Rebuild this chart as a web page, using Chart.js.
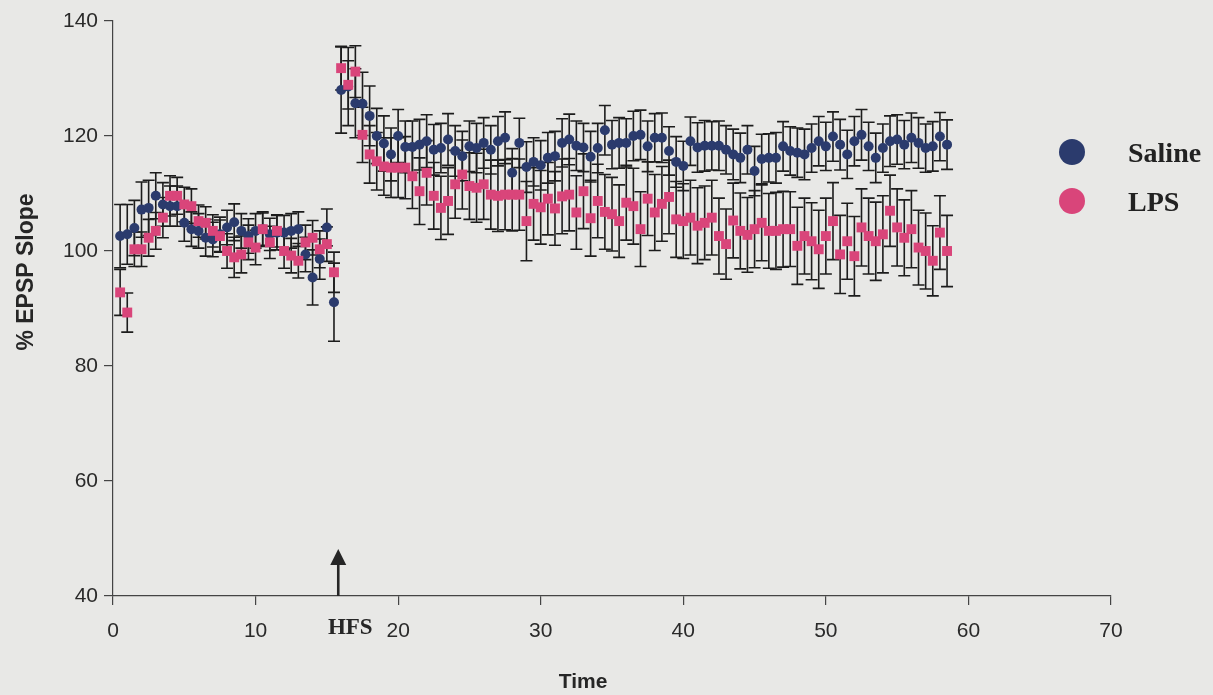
<!DOCTYPE html>
<html>
<head>
<meta charset="utf-8">
<script src="https://cdn.jsdelivr.net/npm/chart.js@4.4.0/dist/chart.umd.min.js"></script>
<style>
  html, body { margin: 0; padding: 0; background: #e8e8e6; overflow: hidden; }
  canvas { display: block; }
</style>
</head>
<body>
<canvas id="c" width="1213" height="695"></canvas>
<script>
// Sampling times (min): baseline before HFS, then the potentiation period
const preTime = [0.5, 1, 1.5, 2, 2.5, 3, 3.5, 4, 4.5, 5, 5.5, 6, 6.5, 7, 7.5, 8, 8.5, 9, 9.5, 10,
  10.5, 11, 11.5, 12, 12.5, 13, 13.5, 14, 14.5, 15, 15.5];
const postTime = [16, 16.5, 17, 17.5, 18, 18.5, 19, 19.5, 20, 20.5, 21, 21.5, 22, 22.5, 23, 23.5,
  24, 24.5, 25, 25.5, 26, 26.5, 27, 27.5, 28, 28.5, 29, 29.5, 30, 30.5, 31, 31.5, 32, 32.5, 33,
  33.5, 34, 34.5, 35, 35.5, 36, 36.5, 37, 37.5, 38, 38.5, 39, 39.5, 40, 40.5, 41, 41.5, 42, 42.5,
  43, 43.5, 44, 44.5, 45, 45.5, 46, 46.5, 47, 47.5, 48, 48.5, 49, 49.5, 50, 50.5, 51, 51.5, 52,
  52.5, 53, 53.5, 54, 54.5, 55, 55.5, 56, 56.5, 57, 57.5, 58, 58.5];

// Saline group, % EPSP slope (mean) and SEM
const salinePre = [102.6, 102.9, 104.0, 107.2, 107.5, 109.6, 108.1, 107.8, 107.8, 104.9, 103.8,
  103.5, 102.3, 102.0, 102.9, 104.1, 105.0, 103.5, 102.6, 103.5, 103.8, 102.9, 103.2, 103.2, 103.5,
  103.8, 99.4, 95.4, 98.6, 104.1, 91.1];
const salinePreSem = [5.5, 5.2, 4.8, 4.8, 4.8, 4.0, 3.8, 3.5, 3.5, 3.2, 3.0, 3.0, 3.2, 3.0, 3.0,
  3.0, 3.2, 3.0, 3.0, 3.0, 3.0, 2.8, 3.0, 3.0, 3.0, 3.0, 3.0, 4.8, 3.5, 3.2, 6.8];
const salinePost = [128.0, 128.6, 125.7, 125.6, 123.5, 120.0, 118.7, 116.8, 120.0, 118.1, 118.1,
  118.5, 119.1, 117.6, 117.9, 119.4, 117.4, 116.5, 118.2, 117.9, 118.8, 117.6, 119.1, 119.7, 113.6,
  118.8, 114.6, 115.5, 114.9, 116.2, 116.5, 118.8, 119.4, 118.3, 118.0, 116.4, 117.9, 121.0, 118.5,
  118.8, 118.8, 120.0, 120.2, 118.2, 119.7, 119.7, 117.4, 115.5, 114.8, 119.1, 118.0, 118.3, 118.3,
  118.3, 117.6, 116.8, 116.2, 117.6, 113.9, 116.0, 116.2, 116.2, 118.2, 117.4, 117.1, 116.8, 117.9,
  119.1, 118.2, 119.9, 118.5, 116.8, 119.1, 120.2, 118.2, 116.2, 117.9, 119.1, 119.4, 118.5, 119.7,
  118.8, 117.9, 118.2, 119.9, 118.5];
const salinePostSem = [7.5, 6.8, 6.0, 5.5, 5.2, 4.8, 4.8, 4.6, 4.6,
  4.5, 4.5, 4.4, 4.6, 4.4, 4.3, 4.5, 4.4, 4.3, 4.4,
  4.3, 4.4, 4.2, 4.3, 4.5, 4.2, 4.3, 4.4, 4.2, 4.3,
  4.4, 4.3, 4.2, 4.4, 4.3, 4.2, 4.4, 4.3, 4.3, 4.2,
  4.4, 4.2, 4.3, 4.3, 4.4, 4.2, 4.3, 4.2, 4.4, 4.3,
  4.2, 4.3, 4.4, 4.2, 4.3, 4.2, 4.4, 4.3, 4.2, 4.3,
  4.3, 4.2, 4.4, 4.3, 4.2, 4.3, 4.4, 4.2, 4.3, 4.2,
  4.3, 4.4, 4.2, 4.3, 4.4, 4.2, 4.3, 4.2, 4.4, 4.3,
  4.2, 4.3, 4.4, 4.2, 4.3, 4.2, 4.3];

// LPS group, % EPSP slope (mean) and SEM
const lpsPre = [92.8, 89.3, 100.3, 100.3, 102.3, 103.5, 105.8, 109.6, 109.6, 108.1, 107.8, 105.2,
  104.9, 103.5, 102.6, 100.0, 98.9, 99.4, 101.5, 100.6, 103.8, 101.5, 103.5, 100.0, 99.2, 98.3,
  101.5, 102.3, 100.3, 101.2, 96.3];
const lpsPreSem = [4.0, 3.4, 3.0, 3.0, 3.2, 3.2, 3.5, 3.5, 3.2, 3.0, 3.0, 2.8, 2.8, 2.8, 2.8, 3.0,
  3.5, 3.2, 3.0, 3.0, 2.8, 2.8, 2.8, 3.0, 3.0, 3.0, 3.0, 3.0, 3.2, 3.0, 3.5];
const lpsPost = [131.8, 128.9, 131.2, 120.2, 116.8, 115.6, 114.7, 114.5, 114.5, 114.5, 113.0,
  110.4, 113.6, 109.6, 107.5, 108.7, 111.6, 113.3, 111.3, 111.0, 111.6, 109.8, 109.6, 109.8, 109.8,
  109.8, 105.2, 108.2, 107.6, 109.1, 107.4, 109.5, 109.8, 106.7, 110.4, 105.7, 108.7, 106.8, 106.4,
  105.2, 108.4, 107.8, 103.8, 109.1, 106.7, 108.2, 109.4, 105.5, 105.2, 105.8, 104.4, 104.9, 105.8,
  102.6, 101.2, 105.3, 103.5, 102.8, 103.8, 104.9, 103.5, 103.5, 103.8, 103.8, 100.9, 102.6, 101.7,
  100.3, 102.6, 105.2, 99.4, 101.7, 99.1, 104.1, 102.6, 101.7, 102.9, 107.0, 104.1, 102.3, 103.8,
  100.6, 100.0, 98.3, 103.2, 100.0];
const lpsPostSem = [3.8, 4.2, 4.5, 4.8, 5.0, 5.0, 5.0, 5.2, 5.2,
  5.4, 5.6, 5.8, 5.6, 5.8, 5.5, 5.8, 5.9, 6.0, 5.8,
  6.0, 6.1, 6.0, 6.2, 6.1, 6.3, 6.2, 6.9, 6.3, 6.4,
  6.3, 6.4, 6.5, 6.3, 6.4, 6.5, 6.6, 6.4, 6.5, 6.4,
  6.3, 6.5, 6.6, 6.5, 6.4, 6.6, 6.5, 6.4, 6.6, 6.5,
  6.5, 6.6, 6.4, 6.5, 6.6, 6.1, 6.5, 6.6, 6.5, 6.7,
  6.6, 6.5, 6.7, 6.6, 6.5, 6.7, 6.6, 6.7, 6.8, 6.6,
  6.7, 6.8, 6.6, 6.9, 6.7, 6.6, 6.8, 6.7, 6.2, 6.7,
  6.6, 6.7, 6.5, 6.6, 6.1, 6.4, 6.2];

const hfsTime = 15.8;
const xTicks = [0, 10, 20, 30, 40, 50, 60, 70];
const yTicks = [40, 60, 80, 100, 120, 140];

const SALINE_COLOR = '#2b3b6d';
const LPS_COLOR = '#d9457a';

const times = preTime.concat(postTime);
const series = [
  { name: 'Saline', mean: salinePre.concat(salinePost), sem: salinePreSem.concat(salinePostSem) },
  { name: 'LPS', mean: lpsPre.concat(lpsPost), sem: lpsPreSem.concat(lpsPostSem) }
];
const toPoints = s => times.map((t, i) => ({ x: t, y: s.mean[i] }));

// SEM whiskers with caps, drawn underneath the markers
const errorBars = {
  id: 'errorBars',
  beforeDatasetsDraw(chart) {
    const { ctx, scales: { x, y } } = chart;
    ctx.save();
    ctx.strokeStyle = '#1c1c1c';
    ctx.lineWidth = 1.6;
    const cap = 6;
    series.forEach(s => {
      times.forEach((t, i) => {
        const px = x.getPixelForValue(t);
        const top = y.getPixelForValue(s.mean[i] + s.sem[i]);
        const bot = y.getPixelForValue(s.mean[i] - s.sem[i]);
        ctx.beginPath();
        ctx.moveTo(px, top); ctx.lineTo(px, bot);
        ctx.moveTo(px - cap, top); ctx.lineTo(px + cap, top);
        ctx.moveTo(px - cap, bot); ctx.lineTo(px + cap, bot);
        ctx.stroke();
      });
    });
    ctx.restore();
  }
};

// Axis titles, HFS marker and the legend
const decorations = {
  id: 'decorations',
  afterDraw(chart) {
    const { ctx, scales: { x, y } } = chart;
    ctx.save();
    ctx.fillStyle = '#262626';
    ctx.strokeStyle = '#262626';

    // y title
    ctx.save();
    ctx.translate(27, 272);
    ctx.rotate(-Math.PI / 2);
    ctx.font = 'bold 23px "Liberation Sans", Arial, sans-serif';
    ctx.textAlign = 'center';
    ctx.textBaseline = 'middle';
    ctx.fillText('% EPSP Slope', 0, 0);
    ctx.restore();

    // x title
    ctx.font = 'bold 21px "Liberation Sans", Arial, sans-serif';
    ctx.textAlign = 'center';
    ctx.textBaseline = 'alphabetic';
    ctx.fillText('Time', 583, 688);

    // HFS arrow
    const ax = x.getPixelForValue(hfsTime);
    const base = y.getPixelForValue(40);
    ctx.lineWidth = 2.6;
    ctx.beginPath();
    ctx.moveTo(ax, base);
    ctx.lineTo(ax, base - 33);
    ctx.stroke();
    ctx.beginPath();
    ctx.moveTo(ax, base - 47);
    ctx.lineTo(ax - 8, base - 31);
    ctx.lineTo(ax + 8, base - 31);
    ctx.closePath();
    ctx.fill();

    ctx.font = 'bold 23px "Liberation Serif", "Times New Roman", serif';
    ctx.textAlign = 'center';
    ctx.fillText('HFS', ax + 12, 634);

    // legend
    const legend = [
      { label: 'Saline', color: SALINE_COLOR, cy: 152 },
      { label: 'LPS', color: LPS_COLOR, cy: 201 }
    ];
    ctx.font = 'bold 28px "Liberation Serif", "Times New Roman", serif';
    ctx.textAlign = 'left';
    legend.forEach(item => {
      ctx.fillStyle = item.color;
      ctx.beginPath();
      ctx.arc(1072, item.cy, 13, 0, Math.PI * 2);
      ctx.fill();
      ctx.fillStyle = '#222';
      ctx.fillText(item.label, 1128, item.cy + 10);
    });
    ctx.restore();
  }
};

const tickFont = { family: '"Liberation Sans", Arial, sans-serif', size: 21 };

new Chart(document.getElementById('c'), {
  type: 'scatter',
  data: {
    datasets: [
      {
        label: 'LPS',
        data: toPoints(series[1]),
        pointStyle: 'rect',
        pointRadius: 7,
        pointBorderWidth: 0,
        backgroundColor: LPS_COLOR,
        borderColor: LPS_COLOR,
        order: 0
      },
      {
        label: 'Saline',
        data: toPoints(series[0]),
        pointStyle: 'circle',
        pointRadius: 5,
        pointBorderWidth: 0,
        backgroundColor: SALINE_COLOR,
        borderColor: SALINE_COLOR,
        order: 1
      }
    ]
  },
  options: {
    responsive: false,
    animation: false,
    events: [],
    layout: { padding: { top: 21, right: 102, bottom: 0, left: 0 } },
    plugins: { legend: { display: false }, tooltip: { enabled: false } },
    scales: {
      x: {
        type: 'linear',
        min: 0, max: 70,
        afterFit: s => { s.height = 99; },
        afterBuildTicks: s => { s.ticks = xTicks.map(v => ({ value: v })); },
        ticks: { color: '#2a2a2a', font: tickFont, padding: 14, maxRotation: 0 },
        grid: { drawOnChartArea: false, drawTicks: true, tickLength: 9, color: '#444', lineWidth: 1.2 },
        border: { display: true, color: '#444', width: 1.2 }
      },
      y: {
        type: 'linear',
        min: 40, max: 140,
        afterFit: s => { s.width = 113; },
        afterBuildTicks: s => { s.ticks = yTicks.map(v => ({ value: v })); },
        ticks: { color: '#2a2a2a', font: tickFont, padding: 6 },
        grid: { drawOnChartArea: false, drawTicks: true, tickLength: 9, color: '#444', lineWidth: 1.2 },
        border: { display: true, color: '#444', width: 1.2 }
      }
    }
  },
  plugins: [errorBars, decorations]
});
</script>
</body>
</html>
